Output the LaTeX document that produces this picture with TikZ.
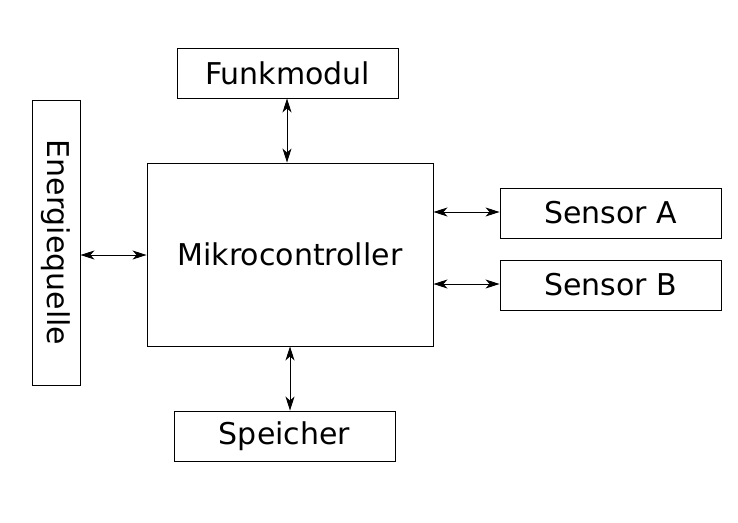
\documentclass[tikz,border=0pt]{standalone}
\usepackage{fontspec}
\setmainfont{DejaVu Sans}
\usetikzlibrary{arrows.meta}
\begin{document}
\begin{tikzpicture}[x=1pt,y=-1pt,
  blk/.style={draw=black,line width=0.9pt,inner sep=0pt,font=\fontsize{30}{35}\selectfont},
  conn/.style={line width=0.9pt,{Stealth[length=14pt,width=9pt,inset=4pt]}-{Stealth[length=14pt,width=9pt,inset=4pt]}}]
\useasboundingbox (0,0) rectangle (738,522);
\node[blk,minimum width=221pt,minimum height=50pt] (funk) at (287.5,73) {Funkmodul};
\node[blk,minimum width=286pt,minimum height=183pt] (mc) at (290,254.5) {Mikrocontroller};
\node[blk,minimum width=285pt,minimum height=48pt,rotate=-90] (en) at (56,242.5) {Energiequelle};
\node[blk,minimum width=221pt,minimum height=50pt] (sa) at (610.5,213) {Sensor A};
\node[blk,minimum width=221pt,minimum height=50pt] (sb) at (610.5,285) {Sensor B};
\node[blk,minimum width=221pt,minimum height=50pt] (sp) at (284.5,436) {Speicher};
\draw[conn] (funk.south -| 287,0) -- (mc.north -| 287,0);
\draw[conn] (mc.south -| 290,0) -- (sp.north -| 290,0);
\draw[conn] (en.north |- 0,255) -- (mc.west |- 0,255);
\draw[conn] (mc.east |- 0,212) -- (sa.west |- 0,212);
\draw[conn] (mc.east |- 0,284) -- (sb.west |- 0,284);
\end{tikzpicture}
\end{document}
